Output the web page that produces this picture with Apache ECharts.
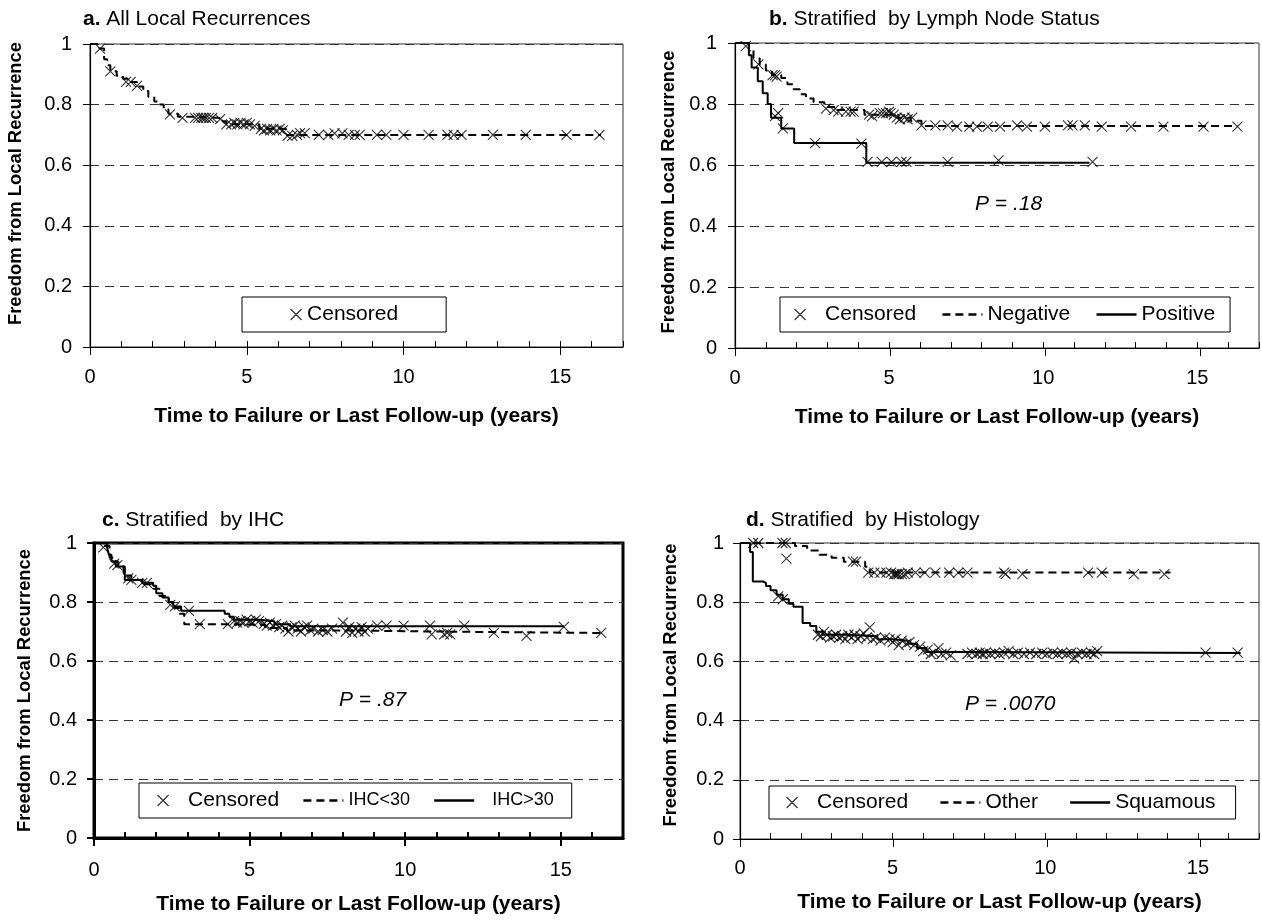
<!DOCTYPE html>
<html>
<head>
<meta charset="utf-8">
<script src="https://cdn.jsdelivr.net/npm/echarts@6/dist/echarts.min.js"></script>
<style>
  html, body { margin: 0; background: #fff; }
  #main { width: 1262px; height: 922px; }
</style>
</head>
<body>
<div id="main"></div>
<script>
// values: [years, freedom from local recurrence]
var yearLabels = [0, 5, 10, 15];

// a. all local recurrences
var aAll = [[0,1],[0.3,0.985],[0.45,0.95],[0.55,0.93],[0.65,0.91],[0.85,0.895],[1.05,0.885],[1.2,0.875],[1.5,0.86],[1.7,0.845],[1.86,0.826],[2.05,0.81],[2.2,0.80],[2.35,0.785],[2.5,0.77],[2.8,0.76],[3.2,0.756],[4.2,0.745],[4.35,0.735],[5.4,0.72],[6.25,0.70],[16.3,0.70]];
var aCensored = [[0.32,0.985],[0.65,0.91],[1.15,0.875],[1.3,0.875],[1.5,0.862],[2.55,0.768],[2.95,0.756],[3.35,0.756],[3.45,0.756],[3.55,0.756],[3.62,0.756],[3.7,0.756],[3.8,0.756],[3.9,0.756],[4.15,0.752],[4.35,0.735],[4.5,0.735],[4.6,0.74],[4.7,0.735],[4.8,0.74],[4.9,0.735],[5.0,0.74],[5.1,0.735],[5.25,0.73],[5.45,0.72],[5.55,0.715],[5.65,0.72],[5.75,0.715],[5.85,0.72],[5.95,0.715],[6.05,0.72],[6.15,0.715],[6.3,0.697],[6.45,0.697],[6.6,0.70],[6.7,0.706],[6.85,0.706],[7.3,0.70],[7.6,0.70],[7.8,0.705],[8.05,0.705],[8.25,0.70],[8.45,0.70],[8.6,0.70],[9.15,0.70],[9.45,0.70],[10.0,0.70],[10.8,0.70],[11.4,0.70],[11.6,0.70],[11.85,0.70],[12.85,0.70],[13.9,0.70],[15.2,0.70],[16.25,0.70]];

// b. lymph node status
var bNegative = [[0,1],[0.45,0.98],[0.6,0.95],[0.8,0.93],[1.0,0.91],[1.2,0.895],[1.5,0.885],[1.7,0.865],[1.9,0.848],[2.1,0.832],[2.3,0.818],[2.55,0.806],[2.9,0.79],[3.3,0.78],[4.2,0.765],[5.3,0.755],[5.7,0.745],[6.05,0.728],[16.3,0.726]];
var bPositive = [[0,1],[0.45,0.96],[0.54,0.92],[0.74,0.875],[0.9,0.835],[1.06,0.80],[1.17,0.755],[1.5,0.72],[1.92,0.672],[4.26,0.607],[11.5,0.607]];
var bCensored = [[0.35,0.99],[0.76,0.93],[1.22,0.895],[1.3,0.895],[1.35,0.89],[2.95,0.785],[3.2,0.78],[3.35,0.775],[3.6,0.775],[3.75,0.775],[3.85,0.775],[4.35,0.765],[4.45,0.76],[4.7,0.77],[4.8,0.77],[4.9,0.77],[5.0,0.775],[5.05,0.77],[5.15,0.765],[5.25,0.755],[5.35,0.75],[5.5,0.755],[5.6,0.75],[5.75,0.755],[6.05,0.73],[6.5,0.73],[6.9,0.73],[7.2,0.726],[7.6,0.726],[7.85,0.726],[8.2,0.726],[8.6,0.726],[9.15,0.73],[9.47,0.726],[10.05,0.726],[10.8,0.73],[10.95,0.73],[11.35,0.73],[11.9,0.726],[12.85,0.726],[13.9,0.726],[15.2,0.726],[16.3,0.726],
  [1.3,0.76],[1.4,0.77],[1.55,0.72],[2.6,0.672],[4.1,0.67],[4.3,0.61],[4.76,0.61],[5.08,0.61],[5.4,0.61],[5.56,0.61],[6.9,0.61],[8.55,0.615],[11.6,0.61]];

// c. IHC
var cLow = [[0,1],[0.3,0.99],[0.5,0.95],[0.7,0.92],[0.95,0.89],[1.2,0.875],[1.6,0.86],[1.9,0.845],[2.1,0.82],[2.4,0.80],[2.6,0.78],[2.75,0.76],[2.9,0.725],[4.4,0.722],[5.5,0.712],[6.2,0.703],[8.5,0.70],[10.8,0.695],[16.3,0.695]];
var cHigh = [[0,1],[0.42,0.985],[0.48,0.96],[0.56,0.937],[0.78,0.92],[0.99,0.875],[1.55,0.865],[1.9,0.855],[2.0,0.83],[2.2,0.815],[2.4,0.80],[2.55,0.785],[2.8,0.77],[4.2,0.76],[4.35,0.75],[4.5,0.74],[5.3,0.735],[5.8,0.725],[6.3,0.718],[15.1,0.716]];
var cCensored = [[0.3,0.985],[0.65,0.93],[0.75,0.925],[1.1,0.88],[1.2,0.875],[1.55,0.865],[1.7,0.865],[2.45,0.79],[2.6,0.785],[3.05,0.77],[3.4,0.725],[4.3,0.725],[4.5,0.735],[4.6,0.73],[4.7,0.735],[4.8,0.73],[4.9,0.74],[5.0,0.735],[5.1,0.73],[5.2,0.74],[5.3,0.735],[5.45,0.725],[5.55,0.72],[5.65,0.73],[5.75,0.72],[5.85,0.725],[5.95,0.715],[6.05,0.72],[6.15,0.71],[6.25,0.70],[6.35,0.715],[6.45,0.72],[6.55,0.71],[6.65,0.70],[6.75,0.715],[6.85,0.72],[6.95,0.705],[7.05,0.71],[7.2,0.70],[7.35,0.705],[7.5,0.70],[7.65,0.71],[8.0,0.73],[8.1,0.70],[8.2,0.715],[8.3,0.695],[8.4,0.71],[8.5,0.70],[8.6,0.715],[8.7,0.70],[8.8,0.71],[9.1,0.72],[9.4,0.72],[9.95,0.72],[10.8,0.72],[10.85,0.69],[11.25,0.69],[11.35,0.695],[11.45,0.69],[11.9,0.72],[12.85,0.695],[13.9,0.685],[15.1,0.716],[16.3,0.695]];

// d. histology
var dOther = [[0,1],[1.8,0.99],[2.2,0.975],[2.6,0.96],[3.0,0.95],[3.4,0.937],[4.1,0.92],[4.25,0.90],[14.1,0.90]];
var dSquamous = [[0,1],[0.33,0.97],[0.42,0.87],[0.75,0.865],[0.85,0.855],[1.0,0.84],[1.2,0.825],[1.4,0.81],[1.6,0.795],[1.75,0.785],[2.05,0.73],[2.3,0.72],[2.5,0.70],[2.7,0.69],[3.5,0.685],[4.5,0.675],[5.0,0.67],[5.5,0.66],[5.8,0.645],[6.1,0.632],[6.9,0.628],[16.4,0.628]];
var dCensored = [[0.43,1.0],[0.6,1.0],[1.39,1.0],[1.5,1.0],[1.52,0.947],[3.7,0.937],[3.8,0.937],[4.2,0.90],[4.4,0.90],[4.6,0.90],[4.8,0.90],[4.95,0.90],[5.05,0.895],[5.1,0.895],[5.15,0.895],[5.2,0.895],[5.3,0.895],[5.4,0.895],[5.5,0.90],[5.75,0.90],[6.05,0.90],[6.4,0.90],[6.85,0.90],[7.15,0.90],[7.45,0.90],[8.65,0.90],[8.7,0.895],[9.25,0.895],[11.4,0.90],[11.85,0.90],[12.9,0.895],[13.9,0.895],
  [1.25,0.82],[1.4,0.81],[2.55,0.69],[2.65,0.685],[2.75,0.70],[2.85,0.69],[2.95,0.68],[3.05,0.685],[3.15,0.69],[3.25,0.68],[3.35,0.685],[3.45,0.675],[3.55,0.69],[3.65,0.68],[3.75,0.69],[3.85,0.675],[3.95,0.685],[4.05,0.695],[4.15,0.68],[4.25,0.715],[4.35,0.675],[4.45,0.68],[4.6,0.67],[4.75,0.68],[4.9,0.675],[5.0,0.665],[5.1,0.675],[5.2,0.655],[5.3,0.67],[5.45,0.66],[5.55,0.665],[5.7,0.655],[5.9,0.65],[6.0,0.635],[6.15,0.64],[6.25,0.625],[6.35,0.63],[6.5,0.645],[6.6,0.625],[6.75,0.63],[6.9,0.62],[7.45,0.625],[7.6,0.63],[7.75,0.625],[7.85,0.63],[7.95,0.625],[8.05,0.63],[8.2,0.625],[8.35,0.63],[8.5,0.625],[8.65,0.63],[8.8,0.635],[8.95,0.625],[9.1,0.63],[9.3,0.625],[9.5,0.63],[9.7,0.625],[9.9,0.63],[10.05,0.625],[10.25,0.63],[10.4,0.625],[10.55,0.63],[10.7,0.625],[10.85,0.63],[10.95,0.61],[11.05,0.625],[11.2,0.63],[11.35,0.625],[11.5,0.63],[11.6,0.625],[11.7,0.635],[15.25,0.63],[16.3,0.63]];

var font = '"Liberation Sans", Arial, sans-serif';
var cross = 'path://M0,0L10,10M10,0L0,10';

// plot areas (pixels) of the four panels
var panels = [
  { left: 90,  top: 44,  width: 533, height: 303, border: 1, axisW: 1.2, yGap: 65, yShift: 24, xGap: 59, xMargin: 20, yMargin: 18 },
  { left: 735, top: 43,  width: 529, height: 305, border: 1, axisW: 1.2, yGap: 57, yShift: 7,  xGap: 59, xMargin: 20, yMargin: 18 },
  { left: 94,  top: 543, width: 529, height: 295, border: 3, axisW: 3,   yGap: 60, yShift: 0,  xGap: 56, xMargin: 22, yMargin: 17 },
  { left: 740, top: 543, width: 528, height: 296, border: 1, axisW: 1.2, yGap: 60, yShift: 12, xGap: 53, xMargin: 19, yMargin: 16 }
];

var grids = [], xAxes = [], yAxes = [];
panels.forEach(function (p, i) {
  grids.push({ left: p.left, top: p.top, width: p.width, height: p.height, show: true,
    borderColor: p.border > 1 ? '#000' : '#333', borderWidth: p.border, backgroundColor: 'transparent' });
  xAxes.push({
    gridIndex: i, type: 'value', min: 0, max: 17, interval: 1,
    name: 'Time to Failure or Last Follow-up (years)', nameLocation: 'middle', nameGap: p.xGap,
    nameTextStyle: { fontFamily: font, fontWeight: 'bold', fontSize: 21, color: '#000' },
    axisLine: { show: true, lineStyle: { color: '#000', width: p.axisW } },
    axisTick: { show: true, inside: true, length: 6, lineStyle: { color: '#000', width: p.border > 1 ? 2 : 1 } },
    axisLabel: { margin: p.xMargin, fontFamily: font, fontSize: 20, color: '#000',
      formatter: function (v) { return yearLabels.indexOf(v) >= 0 ? String(v) : ''; } },
    splitLine: { show: false }
  });
  yAxes.push({
    gridIndex: i, type: 'value', min: 0, max: 1, interval: 0.2,
    name: 'Freedom from Local Recurrence', nameLocation: 'middle', nameGap: p.yGap,
    nameTextStyle: { fontFamily: font, fontWeight: 'bold', fontSize: 18.4, color: '#000', padding: [0, 0, 0, p.yShift] },
    axisLine: { show: true, lineStyle: { color: '#000', width: p.axisW } },
    axisTick: { show: true, length: 7, lineStyle: { color: '#000', width: p.border > 1 ? 2 : 1 } },
    axisLabel: { margin: p.yMargin, fontFamily: font, fontSize: 20, color: '#000' },
    splitLine: { show: true, lineStyle: { color: '#333', width: 1, type: [9, 6] } }
  });
});
// second set of grids on the same rects: only the long year ticks below the axis
panels.forEach(function (p, i) {
  grids.push({ left: p.left, top: p.top, width: p.width, height: p.height });
  xAxes.push({
    gridIndex: 4 + i, type: 'value', min: 0, max: 17, interval: 5,
    axisLine: { show: false },
    axisTick: { show: true, length: 8, customValues: yearLabels, lineStyle: { color: '#000', width: p.border > 1 ? 2 : 1 } },
    axisLabel: { show: false }, splitLine: { show: false }
  });
  yAxes.push({ gridIndex: 4 + i, type: 'value', min: 0, max: 1, show: false });
});

function curve(name, data, idx, dashed) {
  return {
    type: 'line', name: name, data: data, step: 'end', symbol: 'none',
    xAxisIndex: idx, yAxisIndex: idx, z: 3, color: '#000',
    lineStyle: { color: '#000', width: 2, type: dashed ? [8, 5] : 'solid' }
  };
}
function marks(data, idx) {
  return {
    type: 'scatter', name: 'Censored', data: data, symbol: cross, symbolSize: 10,
    xAxisIndex: idx, yAxisIndex: idx, z: 4,
    itemStyle: { color: 'rgba(0,0,0,0)', borderColor: '#000', borderWidth: 1.1 }
  };
}

var censoredItem = { name: 'Censored', itemStyle: { color: 'rgba(0,0,0,0)', borderColor: '#000', borderWidth: 1.2 } };
var noDot = { color: 'rgba(0,0,0,0)', borderWidth: 0 };
function lineItem(name, textStyle) {
  var item = { name: name, itemStyle: noDot };
  if (textStyle) item.textStyle = textStyle;
  return item;
}
var legendBase = {
  orient: 'horizontal', selectedMode: false, borderColor: '#000', borderWidth: 1,
  itemWidth: 40, itemHeight: 11,
  lineStyle: { width: 2.5 },
  textStyle: { fontFamily: font, fontSize: 21, color: '#000' }
};
function legend(extra) {
  return Object.assign({}, legendBase, extra);
}

var titleStyle = {
  fontFamily: font, fontSize: 21, fontWeight: 'normal', color: '#000',
  rich: { b: { fontFamily: font, fontSize: 21, fontWeight: 'bold', color: '#000' } }
};
function pLabel(text, left, top) {
  return { type: 'text', left: left, top: top, z: 10,
    style: { text: text, fill: '#000', font: 'italic 21px ' + font } };
}

var option = {
  animation: false,
  backgroundColor: '#fff',
  title: [
    { text: '{b|a.} All Local Recurrences', left: 83, top: 9, padding: 0, textStyle: titleStyle },
    { text: '{b|b.} Stratified  by Lymph Node Status', left: 769, top: 9, padding: 0, textStyle: titleStyle },
    { text: '{b|c.} Stratified  by IHC', left: 102, top: 510, padding: 0, textStyle: titleStyle },
    { text: '{b|d.} Stratified  by Histology', left: 746, top: 510, padding: 0, textStyle: titleStyle }
  ],
  grid: grids,
  xAxis: xAxes,
  yAxis: yAxes,
  legend: [
    legend({ left: 242, top: 297, padding: [7, 48, 7, 48], itemWidth: 12, data: [censoredItem] }),
    legend({ left: 780, top: 297, padding: [7, 15, 7, 14], itemGap: 25, data: [censoredItem, lineItem('Negative'), lineItem('Positive')] }),
    legend({ left: 139, top: 783, padding: [7, 18, 7, 18], itemGap: 23, data: [
      Object.assign({ textStyle: { padding: [0, 15, 0, 0] } }, censoredItem),
      lineItem('IHC<30', { fontSize: 18 }),
      lineItem('IHC>30', { fontSize: 18, padding: [0, 0, 0, 13] })
    ] }),
    legend({ left: 769, top: 786, padding: [6, 20, 6, 17], itemGap: 31, data: [censoredItem, lineItem('Other'), lineItem('Squamous')] })
  ],
  graphic: [
    pLabel('P = .18', 975, 194),
    pLabel('P = .87', 339, 690),
    pLabel('P = .0070', 965, 694)
  ],
  series: [
    curve('All', aAll, 0, true), marks(aCensored, 0),
    curve('Negative', bNegative, 1, true), curve('Positive', bPositive, 1, false), marks(bCensored, 1),
    curve('IHC<30', cLow, 2, true), curve('IHC>30', cHigh, 2, false), marks(cCensored, 2),
    curve('Other', dOther, 3, true), curve('Squamous', dSquamous, 3, false), marks(dCensored, 3)
  ]
};

var myChart = echarts.init(document.getElementById('main'));
myChart.setOption(option);
</script>
</body>
</html>
